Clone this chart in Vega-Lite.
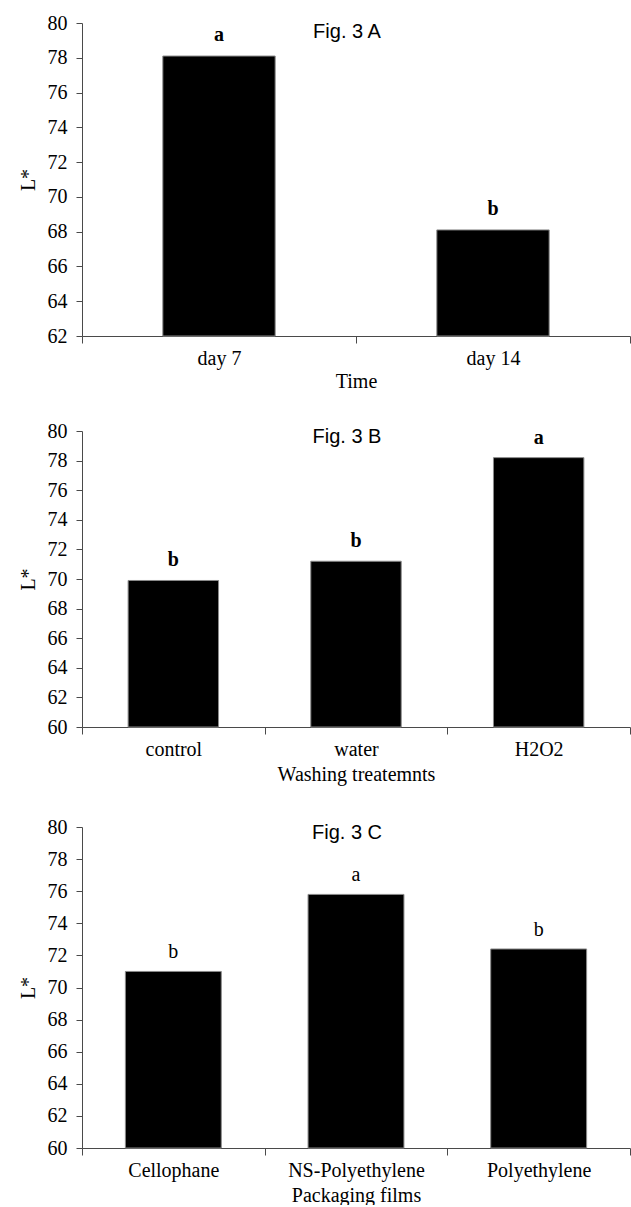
{
  "$schema": "https://vega.github.io/schema/vega-lite/v6.json",
  "padding": {"left": 18, "top": 13, "right": 0, "bottom": 0},
  "background": "white",
  "config": {
    "view": {"stroke": null},
    "font": "Liberation Serif",
    "axis": {
      "labelFont": "Liberation Serif",
      "titleFont": "Liberation Serif",
      "labelFontSize": 20,
      "titleFontSize": 20,
      "labelColor": "black",
      "titleColor": "black",
      "domainColor": "#4a4a4a",
      "tickColor": "#4a4a4a",
      "tickSize": 7,
      "grid": false,
      "titleFontWeight": "normal"
    },
    "axisX": {"labelAngle": 0, "tickBand": "extent", "labelPadding": 5, "titlePadding": 3},
    "axisY": {"labelPadding": 9, "titlePadding": 9, "tickSize": 6},
    "title": {
      "font": "Liberation Sans",
      "fontSize": 20,
      "fontWeight": "normal",
      "anchor": "middle",
      "frame": "group",
      "offset": -26,
      "dx": -9,
      "color": "black"
    }
  },
  "spacing": 33,
  "vconcat": [
    {
      "spacing": 30,
      "vconcat": [
        {
          "width": 548,
          "height": 313,
          "title": {"text": "Fig. 3 A", "offset": -29},
          "data": {"values": [
            {"Time": "day 7", "L": 78.1, "group": "a"},
            {"Time": "day 14", "L": 68.1, "group": "b"}
          ]},
          "encoding": {
            "x": {"field": "Time", "type": "nominal", "sort": null, "scale": {"paddingInner": 0, "paddingOuter": 0}, "axis": {"title": "Time"}},
            "y": {"field": "L", "type": "quantitative", "scale": {"domain": [62, 80], "nice": false, "zero": false}, "axis": {"title": "L*", "values": [62, 64, 66, 68, 70, 72, 74, 76, 78, 80]}}
          },
          "layer": [
            {"mark": {"type": "bar", "color": "black", "stroke": "#8a8a8a", "strokeWidth": 1, "width": {"band": 0.41}}, "encoding": {"y2": {"datum": 62}}},
            {"mark": {"type": "text", "font": "Liberation Serif", "fontSize": 20, "fontWeight": "bold", "baseline": "alphabetic", "dy": -15, "color": "black"}, "encoding": {"text": {"field": "group"}}}
          ]
        },
        {
          "width": 548,
          "height": 296,
          "title": "Fig. 3 B",
          "data": {"values": [
            {"Treatment": "control", "L": 69.9, "group": "b"},
            {"Treatment": "water", "L": 71.2, "group": "b"},
            {"Treatment": "H2O2", "L": 78.2, "group": "a"}
          ]},
          "encoding": {
            "x": {"field": "Treatment", "type": "nominal", "sort": null, "scale": {"paddingInner": 0, "paddingOuter": 0}, "axis": {"title": "Washing treatemnts", "titlePadding": 5}},
            "y": {"field": "L", "type": "quantitative", "scale": {"domain": [60, 80], "nice": false, "zero": false}, "axis": {"title": "L*", "values": [60, 62, 64, 66, 68, 70, 72, 74, 76, 78, 80]}}
          },
          "layer": [
            {"mark": {"type": "bar", "color": "black", "stroke": "#8a8a8a", "strokeWidth": 1, "width": {"band": 0.495}}, "encoding": {"y2": {"datum": 60}}},
            {"mark": {"type": "text", "font": "Liberation Serif", "fontSize": 20, "fontWeight": "bold", "baseline": "alphabetic", "dy": -14, "color": "black"}, "encoding": {"text": {"field": "group"}}}
          ]
        }
      ]
    },
    {
      "width": 548,
      "height": 321,
      "title": "Fig. 3 C",
      "data": {"values": [
        {"Film": "Cellophane", "L": 71.0, "group": "b"},
        {"Film": "NS-Polyethylene", "L": 75.8, "group": "a"},
        {"Film": "Polyethylene", "L": 72.4, "group": "b"}
      ]},
      "encoding": {
        "x": {"field": "Film", "type": "nominal", "sort": null, "scale": {"paddingInner": 0, "paddingOuter": 0}, "axis": {"title": "Packaging films", "titlePadding": 5}},
        "y": {"field": "L", "type": "quantitative", "scale": {"domain": [60, 80], "nice": false, "zero": false}, "axis": {"title": "L*", "values": [60, 62, 64, 66, 68, 70, 72, 74, 76, 78, 80]}}
      },
      "layer": [
        {"mark": {"type": "bar", "color": "black", "stroke": "#8a8a8a", "strokeWidth": 1, "width": {"band": 0.525}}, "encoding": {"y2": {"datum": 60}}},
        {"mark": {"type": "text", "font": "Liberation Serif", "fontSize": 20, "fontWeight": "normal", "baseline": "alphabetic", "dy": -13, "color": "black"}, "encoding": {"text": {"field": "group"}}}
      ]
    }
  ]
}
